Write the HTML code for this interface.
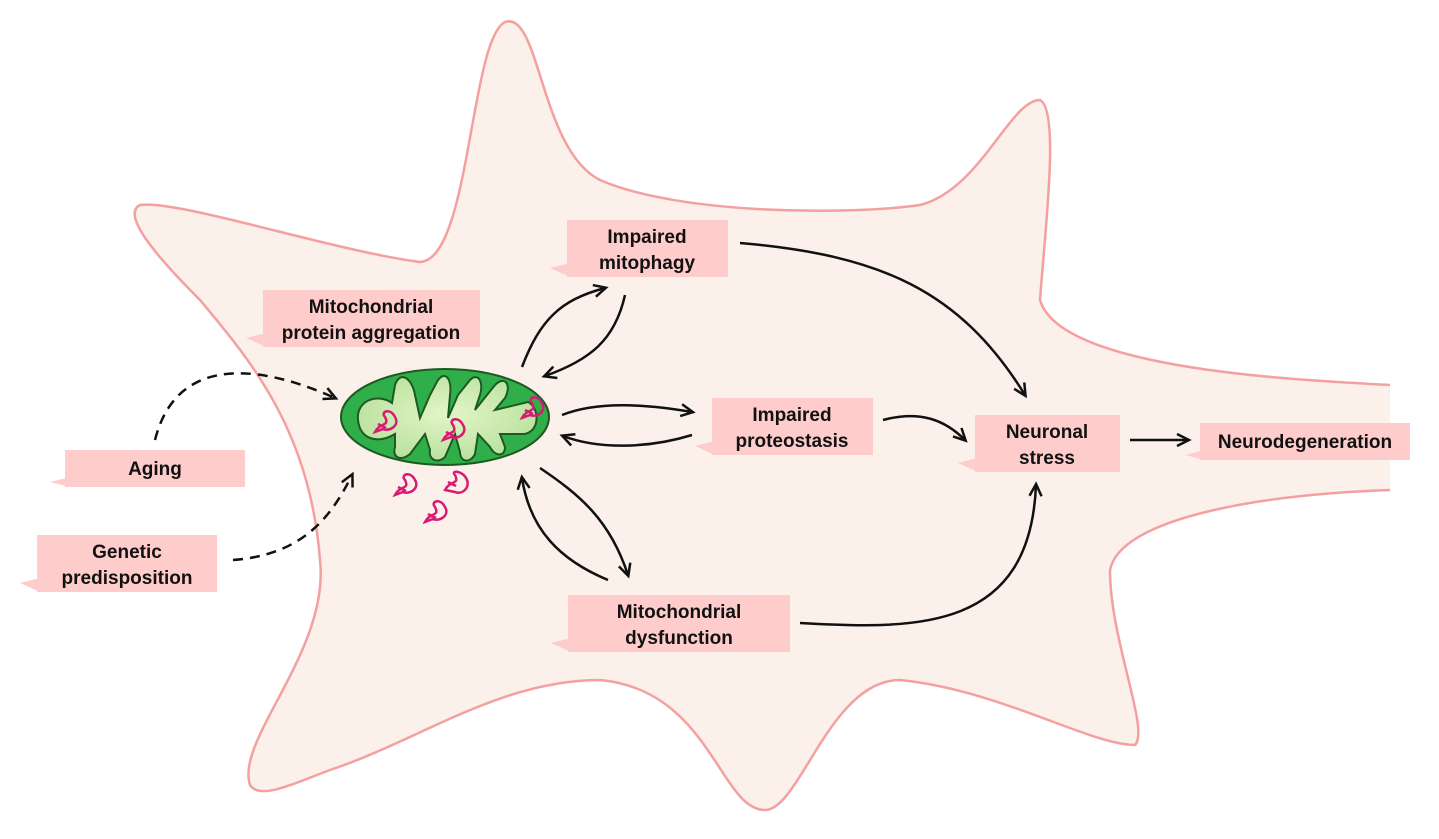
<!DOCTYPE html>
<html><head><meta charset="utf-8"><style>
body{margin:0;background:#fff;}
svg{display:block}
text{font-family:"Liberation Sans",sans-serif;font-weight:bold;font-size:19px;fill:#111;text-anchor:middle}
</style></head><body>
<svg width="1439" height="839" viewBox="0 0 1439 839">
<defs>
<marker id="a" markerWidth="18" markerHeight="18" refX="13" refY="8" orient="auto" markerUnits="userSpaceOnUse"><path d="M2,2 L14,8 L2,14" fill="none" stroke="#111" stroke-width="2.5"/></marker>
<radialGradient id="g" cx="0.5" cy="0.45" r="0.6"><stop offset="0" stop-color="#e4f5c8"/><stop offset="1" stop-color="#b6e09a"/></radialGradient>
</defs>
<path d="M140,205 C180,200 330,250 420,262 C470,260 470,40 505,22 C540,10 540,150 600,180 C680,215 850,215 920,205 C980,190 1010,100 1040,100 C1060,110 1045,230 1040,300 C1060,370 1300,380 1390,385 L1390,490 C1250,495 1120,520 1110,570 C1110,640 1150,730 1135,745 C1090,745 1000,690 900,680 C830,680 800,810 765,810 C720,810 710,690 600,680 C500,680 420,740 330,770 C290,785 260,800 250,785 C235,740 330,650 320,560 C310,430 250,360 200,300 C160,260 120,215 140,205 Z" fill="#fbf1ea"/>
<path d="M1390,385 C1300,380 1060,370 1040,300 C1045,230 1060,110 1040,100 C1010,100 980,190 920,205 C850,215 680,215 600,180 C540,150 540,10 505,22 C470,40 470,260 420,262 C330,250 180,200 140,205 C120,215 160,260 200,300 C250,360 310,430 320,560 C330,650 235,740 250,785 C260,800 290,785 330,770 C420,740 500,680 600,680 C710,690 720,810 765,810 C800,810 830,680 900,680 C1000,690 1090,745 1135,745 C1150,730 1110,640 1110,570 C1120,520 1250,495 1390,490" fill="none" stroke="#f4a0a0" stroke-width="2.5"/>
<g fill="#ffcccc">
<path d="M567,220h161v57h-161zM550,268l20,-5v14z"/>
<path d="M263,290h217v57h-217zM246,338l20,-5v14z"/>
<path d="M712,398h161v57h-161zM695,446l20,-5v14z"/>
<path d="M975,415h145v57h-145zM958,463l20,-5v14z"/>
<path d="M1200,423h210v37h-210zM1185,455l20,-5v10z"/>
<path d="M65,450h180v37h-180zM50,482l20,-5v10z"/>
<path d="M37,535h180v57h-180zM20,583l20,-5v14z"/>
<path d="M568,595h222v57h-222zM551,643l20,-5v14z"/>
</g>
<text x="647" y="243">Impaired</text><text x="647" y="269">mitophagy</text>
<text x="371" y="313">Mitochondrial</text><text x="371" y="339">protein aggregation</text>
<text x="792" y="421">Impaired</text><text x="792" y="447">proteostasis</text>
<text x="1047" y="438">Neuronal</text><text x="1047" y="464">stress</text>
<text x="1305" y="448">Neurodegeneration</text>
<text x="155" y="475">Aging</text>
<text x="127" y="558">Genetic</text><text x="127" y="584">predisposition</text>
<text x="679" y="618">Mitochondrial</text><text x="679" y="644">dysfunction</text>
<ellipse cx="445" cy="417" rx="104" ry="48" fill="#2fae4a" stroke="#1c5a22" stroke-width="2"/>
<path d="M358,420 C356,400 378,393 392,403 L395,385 C400,370 412,378 415,395 L420,418 L430,395 L438,380 C446,370 452,380 450,395 L448,418 L458,395 L470,380 C478,372 484,382 480,395 L475,410 L495,385 C505,375 512,385 505,398 L495,410 L528,402 C540,408 540,432 524,434 L500,434 L505,447 C505,457 495,457 490,447 L478,434 L475,454 C470,464 460,462 460,452 L455,434 L445,457 C438,464 428,460 430,450 L425,434 L410,454 C400,462 392,457 395,447 L395,434 C378,444 360,440 358,420 Z" fill="url(#g)" stroke="#1c5a22" stroke-width="2"/>
<g fill="none" stroke="#d81b72" stroke-width="2.5">
<path d="M375,432 c5,-10 15,-5 10,-15 c-5,-5 5,-10 10,0 c5,8 -5,15 -12,12 z m3,-8 l8,4"/>
<path d="M443,440 c5,-10 15,-5 10,-15 c-5,-5 5,-10 10,0 c5,8 -5,15 -12,12 z m3,-8 l8,4"/>
<path d="M522,418 c5,-10 15,-5 10,-15 c-5,-5 5,-10 10,0 c5,8 -5,15 -12,12 z m3,-8 l8,4"/>
<path d="M395,495 c5,-10 15,-5 10,-15 c-5,-5 5,-10 10,0 c5,8 -5,15 -12,12 z m3,-8 l8,4"/>
<path d="M445,490 c5,-10 15,-5 10,-15 c-5,-5 8,-5 12,5 c3,8 -5,15 -12,12 z m3,-8 l8,4"/>
<path d="M425,522 c5,-10 15,-5 10,-15 c-5,-5 5,-10 10,0 c5,8 -5,15 -12,12 z m3,-8 l8,4"/>
</g>
<g fill="none" stroke="#111" stroke-width="2.5" marker-end="url(#a)">
<path d="M155,440 C175,360 250,360 335,398" stroke-dasharray="10,7"/>
<path d="M233,560 C300,555 330,520 352,475" stroke-dasharray="10,7"/>
<path d="M522,367 C540,320 560,300 605,288"/>
<path d="M625,295 C615,340 590,360 545,376"/>
<path d="M562,415 C600,400 650,405 692,412"/>
<path d="M692,435 C650,448 600,450 563,436"/>
<path d="M540,468 C580,495 610,520 628,575"/>
<path d="M608,580 C560,560 530,530 522,478"/>
<path d="M740,243 C880,255 960,290 1025,395"/>
<path d="M883,420 C920,410 945,420 965,440"/>
<path d="M800,623 C920,630 1030,630 1036,485"/>
<path d="M1130,440 L1188,440"/>
</g>
</svg>
</body></html>
